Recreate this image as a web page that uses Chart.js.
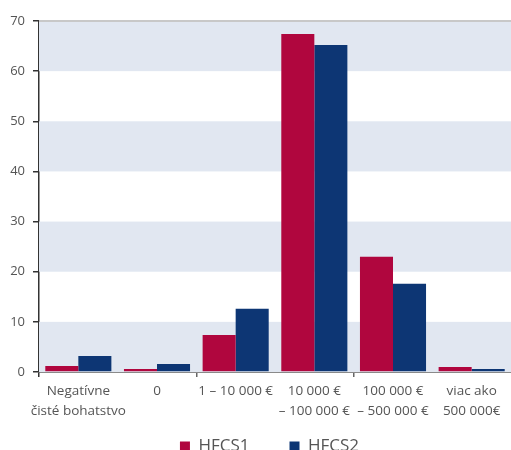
<!DOCTYPE html>
<html>
<head>
<meta charset="utf-8">
<script src="https://cdn.jsdelivr.net/npm/chart.js@4.4.1/dist/chart.umd.min.js"></script>
<style>
  html, body { margin: 0; padding: 0; background: #fff; overflow: hidden; }
  #wrap { width: 511px; height: 489px; position: relative; }
</style>
</head>
<body>
<div id="wrap"><canvas id="c" width="511" height="489"></canvas></div>
<script>
// Distribution of households by net wealth bracket (% of households)
const categories = [
  ['Negatívne', 'čisté bohatstvo'],
  '0',
  '1 – 10 000 €',
  ['10 000 €', '– 100 000 €'],
  ['100 000 €', '– 500 000 €'],
  ['viac ako', '500 000€']
];
const seriesNames = ['HFCS1', 'HFCS2'];
const hfcs1 = [1.2, 0.6, 7.4, 67.4, 23.0, 1.0];
const hfcs2 = [3.2, 1.6, 12.6, 65.2, 17.6, 0.6];
const yTicks = [0, 10, 20, 30, 40, 50, 60, 70];

const RED = '#b0063e';
const BLUE = '#0d3674';
const BAND = '#e1e7f1';
const TEXT = '#555555';

// Alternating horizontal bands plus a grey rule along the top
const bandsPlugin = {
  id: 'bands',
  beforeDatasetsDraw(chart) {
    const { ctx, chartArea, scales: { y } } = chart;
    ctx.save();
    for (let i = 0; i + 1 < yTicks.length; i += 2) {
      const top = y.getPixelForValue(yTicks[i + 1]);
      const bottom = y.getPixelForValue(yTicks[i]);
      ctx.fillStyle = BAND;
      ctx.fillRect(chartArea.left, top, chartArea.right - chartArea.left, bottom - top);
    }
    const yTop = y.getPixelForValue(yTicks[yTicks.length - 1]);
    ctx.strokeStyle = '#c8c8c8';
    ctx.lineWidth = 2;
    ctx.beginPath();
    ctx.moveTo(chartArea.left, yTop);
    ctx.lineTo(chartArea.right, yTop);
    ctx.stroke();
    ctx.restore();
  }
};

// Pull the legend row up closer to the axis labels and nudge it right
const legendOffset = {
  id: 'legendOffset',
  afterLayout(chart) {
    const lg = chart.legend;
    if (!lg) return;
    lg.top -= 24; lg.bottom -= 24;
    lg.left += 14; lg.right += 14;
  }
};

new Chart(document.getElementById('c'), {
  type: 'bar',
  data: {
    labels: categories,
    datasets: [
      { label: seriesNames[0], data: hfcs1, backgroundColor: RED },
      { label: seriesNames[1], data: hfcs2, backgroundColor: BLUE }
    ]
  },
  options: {
    responsive: false,
    animation: false,
    events: [],
    layout: { padding: { top: 21, right: 0, left: 0, bottom: 0 } },
    datasets: { bar: { categoryPercentage: 0.84, barPercentage: 1.0 } },
    scales: {
      x: {
        offset: true,
        grid: {
          offset: true,
          drawOnChartArea: false,
          tickLength: 5,
          lineWidth: 1.5,
          color: (c) => (c.index % 2 === 0 ? (c.index === 0 ? '#333333' : '#666666') : 'rgba(0,0,0,0)')
        },
        border: { color: '#8a8a8a', width: 2 },
        ticks: {
          color: TEXT,
          padding: 4,
          maxRotation: 0,
          autoSkip: false,
          font: { family: 'Open Sans', size: 13.5, lineHeight: 1.5 }
        },
        afterFit(scale) { scale.height = 50; }
      },
      y: {
        min: 0,
        max: 70,
        ticks: {
          stepSize: 10,
          color: TEXT,
          padding: 8,
          font: { family: 'Open Sans', size: 13 }
        },
        grid: {
          drawOnChartArea: false,
          tickLength: 6,
          color: '#333333',
          lineWidth: 1.5
        },
        border: { color: '#333333', width: 1.5 },
        afterFit(scale) { scale.width = 39; }
      }
    },
    plugins: {
      tooltip: { enabled: false },
      legend: {
        position: 'bottom',
        labels: {
          color: TEXT,
          boxWidth: 10,
          boxHeight: 10,
          padding: 40,
          font: { family: 'Open Sans', size: 17 }
        }
      }
    }
  },
  plugins: [bandsPlugin, legendOffset]
});
</script>
</body>
</html>
